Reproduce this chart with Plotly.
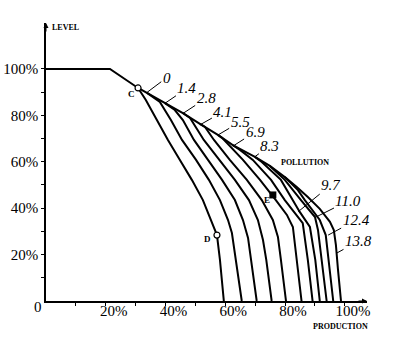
import plotly.graph_objects as go

# Pollution levels (curve labels)
pollution_levels = ["0", "1.4", "2.8", "4.1", "5.5", "6.9", "8.3", "9.7", "11.0", "12.4", "13.8"]

# Outer curve (pollution 13.8) - shared envelope from (0%,100%)
env_x = [0, 21.4, 30.8, 33.8, 39.8, 45.8, 51.5, 57.5, 62.5, 69.9, 74.9, 79.9, 83.9, 87.6, 91.6, 95.0, 96.3, 97.0, 97.7, 98.7]
env_y = [100, 100, 91.8, 89.7, 85.3, 81.0, 76.3, 71.6, 67.2, 62.1, 58.2, 53.4, 49.1, 44.8, 39.7, 34.1, 30.6, 24.1, 13.4, 0]

# Branches of the other curves, each leaving the envelope
c00_x = [30.8, 33.4, 37.1, 40.8, 44.8, 48.8, 52.5, 55.2, 57.2, 58.2, 59.5]
c00_y = [91.8, 86.6, 78.0, 69.4, 60.8, 52.2, 43.5, 34.9, 28.4, 17.7, 0]
c14_x = [33.8, 38.1, 41.8, 45.5, 50.2, 54.5, 58.2, 60.9, 62.2, 63.5, 65.5]
c14_y = [89.7, 85.8, 78.0, 69.4, 60.8, 52.2, 43.5, 34.9, 29.3, 17.7, 0]
c28_x = [39.8, 43.1, 45.8, 49.5, 54.2, 58.9, 63.2, 65.9, 67.6, 68.7, 70.5]
c28_y = [85.3, 82.3, 78.0, 69.4, 60.8, 52.2, 43.5, 34.9, 27.2, 17.7, 0]
c41_x = [45.8, 48.2, 52.8, 57.9, 63.2, 67.9, 70.9, 72.6, 73.7, 75.5]
c41_y = [81.0, 78.9, 69.4, 60.8, 52.2, 43.5, 34.9, 26.3, 17.7, 0]
c55_x = [51.5, 53.2, 56.2, 61.5, 67.2, 72.2, 75.9, 77.6, 78.6, 80.3]
c55_y = [76.3, 75.0, 69.4, 60.8, 52.2, 43.5, 34.9, 27.6, 17.7, 0]
c69_x = [57.5, 58.9, 65.9, 71.6, 76.9, 80.6, 82.6, 83.9, 85.5]
c69_y = [71.6, 70.3, 60.8, 52.2, 43.5, 37.1, 31.9, 17.7, 0]
c83_x = [62.5, 64.9, 69.2, 75.3, 79.9, 83.6, 85.9, 87.6, 89.2]
c83_y = [67.2, 65.1, 60.8, 52.2, 43.5, 37.1, 33.6, 17.7, 0]
c97_x = [69.9, 72.2, 78.6, 82.6, 84.9, 88.3, 90.1, 91.6]
c97_y = [62.1, 59.9, 52.2, 43.5, 38.4, 31.9, 17.7, 0]
c110_x = [74.9, 75.6, 79.9, 85.3, 90.0, 91.0, 92.3, 93.9]
c110_y = [58.2, 57.3, 52.2, 43.5, 36.2, 30.6, 17.7, 0]
c124_x = [79.9, 84.3, 86.6, 91.6, 93.6, 94.6, 96.1]
c124_y = [53.4, 47.8, 43.5, 34.9, 28.4, 17.7, 0]

branches = [(c00_x, c00_y), (c14_x, c14_y), (c28_x, c28_y), (c41_x, c41_y), (c55_x, c55_y),
            (c69_x, c69_y), (c83_x, c83_y), (c97_x, c97_y), (c110_x, c110_y), (c124_x, c124_y),
            (env_x, env_y)]

# Label anchor points on the curves and text offsets (px)
label_pt_x = [33.7, 39.8, 45.9, 51.5, 57.6, 62.6, 69.9, 84.4, 90.5, 94.4, 97.2]
label_pt_y = [89.8, 85.2, 80.9, 75.9, 71.6, 66.8, 62.2, 38.5, 36.3, 28.4, 20.6]
label_dx = [20, 22, 23, 23, 22, 22, 15, 33, 32, 28, 22]
label_dy = [-15, -15, -15, -13, -13, -14, -11, -27, -16, -15, -12]

# Special points
pt_names = ["C", "D", "E"]
pt_x = [30.8, 57.2, 75.9]
pt_y = [91.8, 28.4, 45.7]

x_ticks = [10, 20, 30, 40, 50, 60, 70, 80, 90, 100]
x_ticktext = ["", "20%", "", "40%", "", "60%", "", "80%", "", "100%"]
y_ticks = [10, 20, 30, 40, 50, 60, 70, 80, 90, 100]
y_ticktext = ["", "20%", "", "40%", "", "60%", "", "80%", "", "100%"]

fig = go.Figure()
for bx, by in branches:
    fig.add_trace(go.Scatter(x=bx, y=by, mode="lines",
                             line=dict(color="black", width=2), hoverinfo="skip"))

fig.add_trace(go.Scatter(x=pt_x[:2], y=pt_y[:2], mode="markers",
                         marker=dict(symbol="circle", size=6, color="white",
                                     line=dict(color="black", width=1.2))))
fig.add_trace(go.Scatter(x=pt_x[2:], y=pt_y[2:], mode="markers",
                         marker=dict(symbol="square", size=7, color="black")))

serif = "Liberation Serif"
annotations = []
for i, lab in enumerate(pollution_levels):
    annotations.append(dict(x=label_pt_x[i], y=label_pt_y[i], xref="x", yref="y",
                            text="<i>" + lab + "</i>", showarrow=True, arrowhead=0, arrowwidth=1,
                            arrowcolor="black", ax=label_dx[i], ay=label_dy[i],
                            font=dict(family=serif, size=15, color="black")))

pt_shift = [(-7, -6), (-9, -4), (-6, -5)]
for i, nm in enumerate(pt_names):
    annotations.append(dict(x=pt_x[i], y=pt_y[i], xref="x", yref="y", text="<b>" + nm + "</b>",
                            showarrow=False, xshift=pt_shift[i][0], yshift=pt_shift[i][1],
                            font=dict(family=serif, size=9, color="black")))

annotations += [
    dict(x=0, y=0, xref="paper", yref="paper", text="0", showarrow=False,
         xanchor="center", yanchor="middle",
         xshift=-8, yshift=-6, font=dict(family=serif, size=15, color="black")),
    dict(x=0, y=1, xref="paper", yref="paper", text="<b>LEVEL</b>", showarrow=False,
         xanchor="left", yanchor="middle", xshift=4, yshift=-4,
         font=dict(family=serif, size=8, color="black")),
    dict(x=1, y=0, xref="paper", yref="paper", text="<b>PRODUCTION</b>", showarrow=False,
         xanchor="right", yanchor="middle", xshift=3, yshift=-25,
         font=dict(family=serif, size=8, color="black")),
    dict(x=78.0, y=59.5, xref="x", yref="y", text="<b>POLLUTION</b>", showarrow=False,
         xanchor="left", font=dict(family=serif, size=8, color="black")),
    dict(x=1, y=0, xref="paper", yref="paper", text="", showarrow=True, arrowhead=2,
         arrowsize=1, arrowwidth=1, arrowcolor="black", ax=-10, ay=0),
    dict(x=0, y=1, xref="paper", yref="paper", text="", showarrow=True, arrowhead=2,
         arrowsize=1, arrowwidth=1, arrowcolor="black", ax=0, ay=10),
]

fig.update_layout(
    width=393, height=354, margin=dict(l=46, r=26, t=23, b=53, autoexpand=False),
    paper_bgcolor="white", plot_bgcolor="white", showlegend=False,
    annotations=annotations,
    xaxis=dict(range=[0, 107.4], showgrid=False, zeroline=False, showline=True,
               automargin=False,
               linecolor="black", linewidth=2, ticks="outside", ticklen=3, tickcolor="black",
               tickvals=x_ticks, ticktext=x_ticktext, ticklabelshift=8, ticklabelstandoff=-8,
               tickfont=dict(family=serif, size=15, color="black")),
    yaxis=dict(range=[0, 119.8], showgrid=False, zeroline=False, showline=True,
               automargin=False,
               linecolor="black", linewidth=1.5, ticks="outside", ticklen=3, tickcolor="black",
               tickvals=y_ticks, ticktext=y_ticktext,
               tickfont=dict(family=serif, size=15, color="black")),
)

fig.write_html("out.html")
